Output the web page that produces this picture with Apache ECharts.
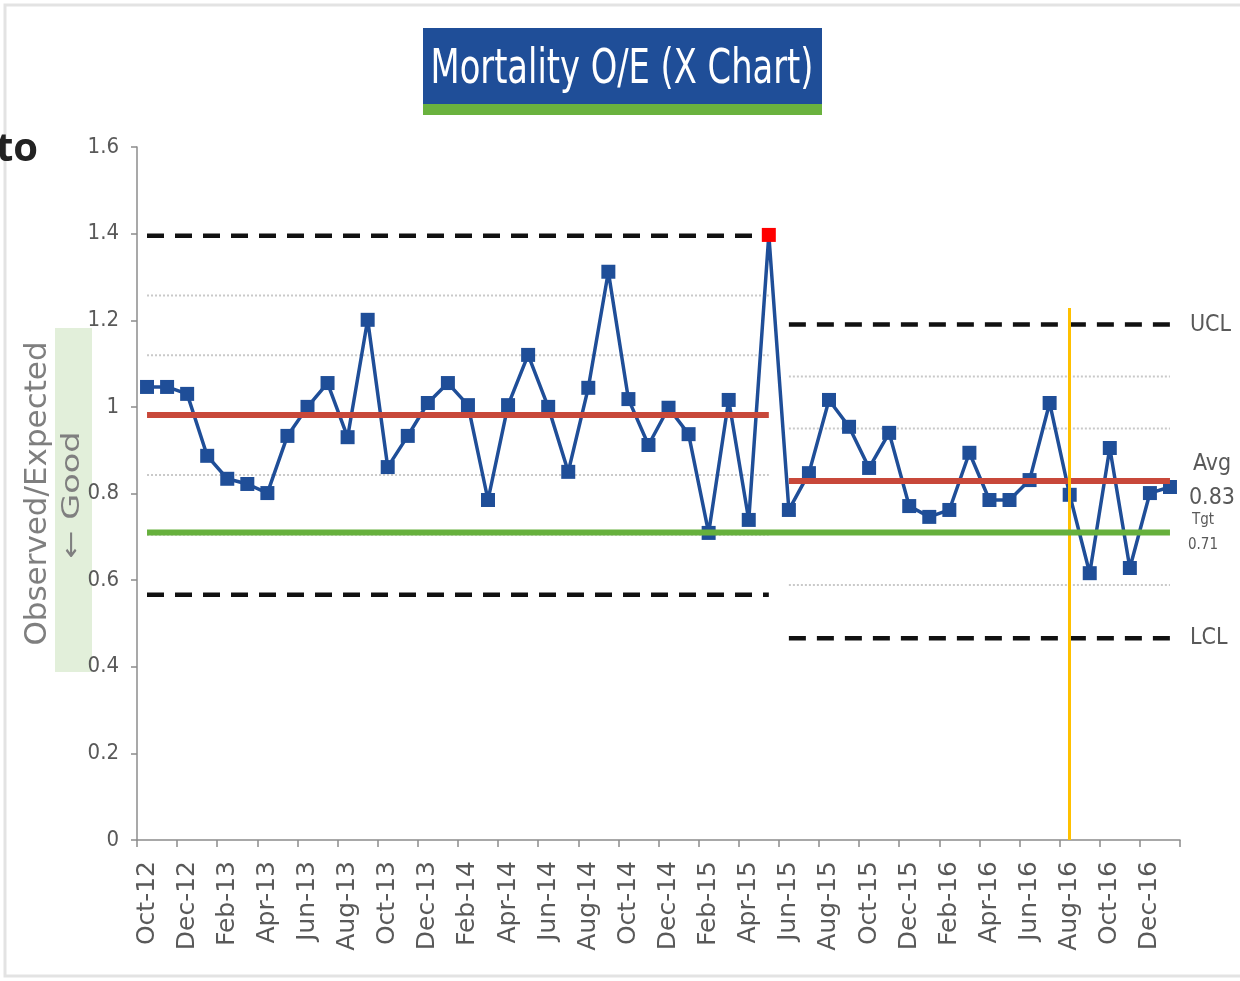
<!DOCTYPE html>
<html>
<head>
<meta charset="utf-8">
<title>Mortality O/E (X Chart)</title>
<script src="https://cdn.jsdelivr.net/npm/echarts@6/dist/echarts.min.js"></script>
<style>
  html, body { margin: 0; padding: 0; background: #fff; }
  #chart { width: 1240px; height: 981px; }
</style>
</head>
<body>
<div id="chart"></div>
<script>
// months shown on the x axis (one point per month)
const months = [
  'Oct-12', 'Nov-12', 'Dec-12',
  'Jan-13', 'Feb-13', 'Mar-13', 'Apr-13', 'May-13', 'Jun-13', 'Jul-13', 'Aug-13', 'Sep-13', 'Oct-13', 'Nov-13', 'Dec-13',
  'Jan-14', 'Feb-14', 'Mar-14', 'Apr-14', 'May-14', 'Jun-14', 'Jul-14', 'Aug-14', 'Sep-14', 'Oct-14', 'Nov-14', 'Dec-14',
  'Jan-15', 'Feb-15', 'Mar-15', 'Apr-15', 'May-15', 'Jun-15', 'Jul-15', 'Aug-15', 'Sep-15', 'Oct-15', 'Nov-15', 'Dec-15',
  'Jan-16', 'Feb-16', 'Mar-16', 'Apr-16', 'May-16', 'Jun-16', 'Jul-16', 'Aug-16', 'Sep-16', 'Oct-16', 'Nov-16', 'Dec-16',
  'Jan-17'
]

// observed / expected mortality
const oeValues = [
  1.046, 1.046, 1.03,
  0.887, 0.834, 0.822, 0.801, 0.933, 1.0, 1.055, 0.93, 1.201, 0.861, 0.933, 1.009,
  1.055, 1.004, 0.785, 1.004, 1.12, 1.0, 0.85, 1.044, 1.312, 1.018, 0.912, 0.998,
  0.937, 0.709, 1.016, 0.739, 1.397, 0.762, 0.847, 1.016, 0.954, 0.859, 0.94, 0.771,
  0.746, 0.762, 0.894, 0.785, 0.785, 0.831, 1.009, 0.797, 0.616, 0.905, 0.628, 0.801,
  0.815
]

const outlierMonth = 'May-15'

// two phases of the control chart
const phaseStart = ['Oct-12', 'Jun-15']
const phaseEnd = ['May-15', 'Jan-17']
const uclValues = [1.395, 1.19]
const avgValues = [0.981, 0.829]
const lclValues = [0.566, 0.466]
// 1 and 2 sigma zone lines per phase
const zoneValues = [
  [1.257, 1.119, 0.843, 0.705],
  [1.07, 0.95, 0.709, 0.589]
]
const target = 0.71
const avgLabel = '0.83'
const tgtLabel = '0.71'

const changeMonth = 'Aug-16'
const changeTop = 1.228

const yTicks = [0, 0.2, 0.4, 0.6, 0.8, 1, 1.2, 1.4, 1.6]

const NARROW = '"Liberation Sans Narrow", "DejaVu Sans Condensed", sans-serif'
const SANS = '"DejaVu Sans", sans-serif'
const GREY = '#595959'

// a flat line that only exists between two months
function flat(value, from, to) {
  const a = months.indexOf(from)
  const b = months.indexOf(to)
  return months.map((m, i) => (i >= a && i <= b ? value : null))
}

function flatSeries(name, data, lineStyle, z, endLabel) {
  return {
    name: name,
    type: 'line',
    data: data,
    symbol: 'none',
    silent: true,
    z: z,
    lineStyle: lineStyle,
    endLabel: endLabel || { show: false },
    animation: false
  }
}

const dashed = { color: '#111', width: 4.5, type: [17, 11] }
const dotted = { color: '#c9c9c9', width: 2, type: [2, 2] }
const redLine = { color: '#c8483a', width: 6 }

const series = []

// zone lines
zoneValues.forEach((vals, p) => {
  vals.forEach((v, k) => {
    series.push(flatSeries('zone' + p + k, flat(v, phaseStart[p], phaseEnd[p]), dotted, 1))
  })
})

// phase 1 limits
series.push(flatSeries('UCL1', flat(uclValues[0], phaseStart[0], phaseEnd[0]), dashed, 2))
series.push(flatSeries('LCL1', flat(lclValues[0], phaseStart[0], phaseEnd[0]), dashed, 2))
series.push(flatSeries('Avg1', flat(avgValues[0], phaseStart[0], phaseEnd[0]), redLine, 4))

// phase 2 limits with labels at the right
const sideLabel = {
  show: true,
  distance: 20,
  color: GREY,
  fontFamily: NARROW,
  fontSize: 23
}
series.push(flatSeries('UCL2', flat(uclValues[1], phaseStart[1], phaseEnd[1]), dashed, 2,
  Object.assign({}, sideLabel, { formatter: 'UCL' })))
series.push(flatSeries('LCL2', flat(lclValues[1], phaseStart[1], phaseEnd[1]), dashed, 2,
  Object.assign({}, sideLabel, { formatter: 'LCL' })))
series.push(flatSeries('Avg2', flat(avgValues[1], phaseStart[1], phaseEnd[1]), redLine, 4,
  Object.assign({}, sideLabel, {
    distance: 20,
    formatter: '{a|Avg}\n{a|' + avgLabel + '}',
    rich: { a: { width: 44, align: 'center', fontSize: 23, lineHeight: 34, color: GREY, fontFamily: NARROW } }
  })))

// target line
series.push(flatSeries('Tgt', flat(target, months[0], months[months.length - 1]), { color: '#66b03c', width: 6 }, 5,
  Object.assign({}, sideLabel, {
    distance: 16,
    formatter: '{a|Tgt}\n{a|' + tgtLabel + '}',
    rich: { a: { width: 34, align: 'center', fontSize: 15, lineHeight: 25, color: GREY, fontFamily: NARROW } }
  })))

// observed / expected
series.push({
  name: 'O/E',
  type: 'line',
  z: 3,
  animation: false,
  symbol: 'rect',
  symbolSize: 14,
  showAllSymbol: true,
  lineStyle: { color: '#1f4e98', width: 3.5 },
  itemStyle: { color: '#1f4e98' },
  data: oeValues.map((v, i) => {
    if (months[i] === outlierMonth) {
      return { value: v, itemStyle: { color: '#ff0000' } }
    }
    return v
  }),
  markLine: {
    silent: true,
    symbol: 'none',
    animation: false,
    label: { show: false },
    lineStyle: { color: '#ffc000', width: 3, type: 'solid' },
    data: [[{ coord: [changeMonth, 0] }, { coord: [changeMonth, changeTop] }]]
  }
})

const chart = echarts.init(document.getElementById('chart'))

const option = {
  backgroundColor: '#fff',
  grid: { left: 137, right: 60, top: 147, bottom: 141, containLabel: false },
  xAxis: {
    type: 'category',
    data: months,
    boundaryGap: true,
    axisLine: { lineStyle: { color: '#8c8c8c', width: 1.5 } },
    axisTick: { show: true, interval: 1, length: 7, lineStyle: { color: '#8c8c8c', width: 1.5 } },
    axisLabel: {
      interval: 1,
      rotate: 90,
      margin: 21,
      color: GREY,
      fontSize: 25,
      fontFamily: SANS
    },
    splitLine: { show: false }
  },
  yAxis: {
    type: 'value',
    min: yTicks[0],
    max: yTicks[yTicks.length - 1],
    interval: 0.2,
    name: 'Observed/Expected',
    nameLocation: 'middle',
    nameRotate: 90,
    nameGap: 84,
    nameTextStyle: { color: '#7f7f7f', fontSize: 31, fontFamily: SANS },
    axisLine: { show: true, lineStyle: { color: '#8c8c8c', width: 1.5 } },
    axisTick: { show: true, length: 6, lineStyle: { color: '#8c8c8c', width: 1.5 } },
    axisLabel: { color: GREY, fontSize: 22, margin: 18, fontFamily: NARROW },
    splitLine: { show: false }
  },
  graphic: [
    // frame of the slide
    {
      type: 'rect', z: -10, silent: true,
      shape: { x: 5, y: 5, width: 1260, height: 971 },
      style: { fill: null, stroke: '#e3e3e3', lineWidth: 3 }
    },
    // "good" direction band
    {
      type: 'rect', z: -5, silent: true,
      shape: { x: 55, y: 328, width: 37, height: 344 },
      style: { fill: '#e2efda' }
    },
    {
      type: 'text', silent: true,
      x: 72, y: 495, rotation: Math.PI / 2, scaleX: 1.34,
      style: {
        text: '\u2190 Good', fill: '#7f7f7f', fontSize: 25,
        fontFamily: SANS, align: 'center', verticalAlign: 'middle'
      }
    },
    // cut-off word from the slide
    {
      type: 'text', silent: true, left: -4, top: 130,
      style: { text: 'to', fill: '#222', fontSize: 40, fontWeight: 'bold', fontFamily: '"Open Sans", sans-serif' }
    },
    // title box
    {
      type: 'rect', silent: true,
      shape: { x: 423, y: 28, width: 399, height: 78 },
      style: { fill: '#1f4e98' }
    },
    {
      type: 'rect', silent: true,
      shape: { x: 423, y: 104, width: 399, height: 11 },
      style: { fill: '#6ab23e' }
    },
    {
      type: 'text', silent: true, x: 622, y: 70, scaleY: 1.3,
      style: {
        text: 'Mortality O/E (X Chart)', fill: '#fff', fontSize: 37.5,
        fontFamily: NARROW, align: 'center', verticalAlign: 'middle'
      }
    }
  ],
  series: series
}

chart.setOption(option)
</script>
</body>
</html>
